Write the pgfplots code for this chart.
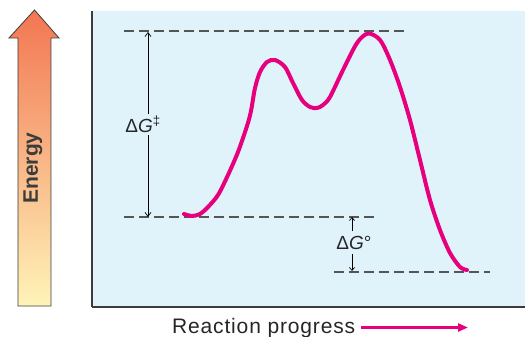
\documentclass[border=0pt]{standalone}
\usepackage{pgfplots}
\pgfplotsset{compat=1.18}
\usetikzlibrary{arrows.meta}
\usepackage{fontspec}
\setmainfont{Liberation Sans}
\newfontfamily\spacedfont[LetterSpace=4]{Liberation Sans}
\definecolor{panelblue}{RGB}{224,242,250}
\definecolor{curvemag}{RGB}{230,0,126}
\definecolor{dashgray}{RGB}{85,85,85}
\definecolor{axgray}{RGB}{60,60,60}
\definecolor{ortop}{RGB}{242,118,82}
\definecolor{ormid}{RGB}{250,178,125}
\definecolor{orbot}{RGB}{255,244,184}
\begin{document}
\begin{tikzpicture}
\begin{axis}[
  scale only axis, width=433bp, height=296bp,
  xmin=92, xmax=525, ymin=30, ymax=326,
  axis x line=bottom, axis y line=left,
  axis line style={-, line width=1.6bp, draw=axgray},
  xtick=\empty, ytick=\empty,
  axis background/.style={fill=panelblue},
  clip=false,
]
\coordinate (bl) at (axis cs:0,0);
\coordinate (tr) at (axis cs:525,337);
% energy arrow
\shadedraw[top color=ortop, middle color=ormid, bottom color=orbot, draw=axgray, line width=0.8bp]
  (axis cs:34.5,327) -- (axis cs:59,299) -- (axis cs:51,299) -- (axis cs:51,31)
  -- (axis cs:18,31) -- (axis cs:18,299) -- (axis cs:9,299) -- cycle;
\node[rotate=90, text=axgray, font=\fontsize{21bp}{24bp}\selectfont\bfseries] at (axis cs:33,169) {Energy};
% dashed reference lines
\addplot[dashgray, dash pattern=on 10bp off 5bp, line width=1.3bp] coordinates {(124,306) (408,306)};
\addplot[dashgray, dash pattern=on 10bp off 5bp, line width=1.3bp] coordinates {(124,120) (375,120)};
\addplot[dashgray, dash pattern=on 10bp off 5bp, line width=1.3bp] coordinates {(334,65) (490,65)};
% delta G double dagger
\addplot[black, line width=0.7bp, {Straight Barb[length=4bp,width=6bp]}-{Straight Barb[length=4bp,width=6bp]}] coordinates {(148,305) (148,120)};
\node[fill=panelblue, inner sep=1.5bp, anchor=base, font=\fontsize{19bp}{22bp}\selectfont, text=black!85] at (axis cs:143,204) {Δ\textit{G}\textsuperscript{‡}};
% delta G standard
\addplot[black, line width=0.7bp, -{Straight Barb[length=3bp,width=5bp]}] coordinates {(352,106) (352,120)};
\addplot[black, line width=0.7bp, -{Straight Barb[length=3bp,width=5bp]}] coordinates {(352,83) (352,66)};
\node[anchor=base, inner sep=0pt, font=\fontsize{19bp}{22bp}\selectfont, text=black!85] at (axis cs:354,87) {Δ\textit{G}°};
% energy profile
\addplot[curvemag, line width=4bp, smooth, line cap=round] coordinates {
(184,123) (192,121) (200,123) (208,130) (218,142) (228,162) (238,185) (247,211)
(251,226) (255,249) (260,265) (267,275) (275,277) (285,270) (293,254) (302,237)
(310,230) (317,229) (323,232) (330,240) (343,267) (357,294) (368,303.5) (380,297)
(390,277) (400,250) (410,217) (420,177) (430,137) (440,107) (450,84) (460,70) (467,67)};
% x label
\node[anchor=base west, inner sep=0pt, font=\fontsize{21bp}{24bp}\selectfont\spacedfont, text=black!85] at (axis cs:172,4) {Reaction progress};
\addplot[curvemag, line width=2.5bp, -{Triangle[length=10bp,width=8bp]}] coordinates {(361,9.5) (468,9.5)};
\end{axis}
\pgfresetboundingbox
\useasboundingbox (bl) rectangle (tr);
\end{tikzpicture}
\end{document}
